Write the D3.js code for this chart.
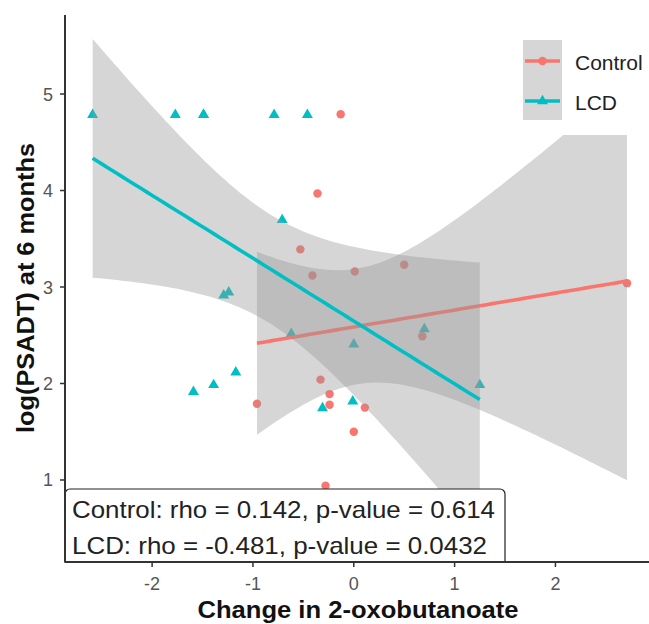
<!DOCTYPE html>
<html>
<head>
<meta charset="utf-8">
<script src="https://cdn.jsdelivr.net/npm/d3@7"></script>
<style>
  html, body { margin: 0; padding: 0; background: #fff; }
  text { font-family: "Liberation Sans", Arial, sans-serif; }
</style>
</head>
<body>
<svg id="chart" width="649" height="624"></svg>
<script>
// ---- data ----
const xTicks = [-2, -1, 0, 1, 2];
const yTicks = [1, 2, 3, 4, 5];
const groups = ["Control", "LCD"];
const controlX = [-0.13, -0.36, -0.53, -0.41, 0.01, 0.50, 0.68, -0.33, -0.24, -0.24, -0.96, 0.11, 0.00, -0.28, 2.71];
const controlY = [4.79, 3.97, 3.39, 3.12, 3.16, 3.23, 2.49, 2.04, 1.89, 1.78, 1.79, 1.75, 1.50, 0.94, 3.04];
const lcdX = [-2.59, -1.77, -1.49, -1.49, -0.79, -0.46, -0.71, -1.29, -1.24, -1.59, -1.39, -1.17, -0.31, -0.01, 0.00, 0.70, 1.25, -0.62];
const lcdY = [4.79, 4.79, 4.79, 4.79, 4.79, 4.79, 3.70, 2.92, 2.95, 1.92, 1.99, 2.12, 1.75, 1.82, 2.41, 2.57, 1.99, 2.52];
const annotationLines = ["Control: rho = 0.142, p-value = 0.614", "LCD: rho = -0.481, p-value = 0.0432"];
const xTitle = "Change in 2-oxobutanoate";
const yTitle = "log(PSADT) at 6 months";

// ---- layout ----
const W = 649, H = 624;
const plot = { left: 65, right: 649, top: 15, bottom: 562 };
const colors = { Control: "#F8766D", LCD: "#00BFC4" };

const svg = d3.select("#chart");
const x = d3.scaleLinear().domain([-2.864, 2.928]).range([plot.left, plot.right]);
const y = d3.scaleLinear().domain([0.15, 5.819]).range([plot.bottom, plot.top]);

// ---- stats: linear fit + 95% CI like geom_smooth(method = "lm") ----
function tPdfU(t, nu) { return Math.pow(1 + t * t / nu, -(nu + 1) / 2); }
function integ(f, a, b, n) {
  const h = (b - a) / n; let s = f(a) + f(b);
  for (let i = 1; i < n; i++) s += f(a + i * h) * (i % 2 ? 4 : 2);
  return s * h / 3;
}
function tQuantile(p, nu) {
  const total = integ(t => tPdfU(t, nu), 0, 80, 8000);
  let lo = 0, hi = 10;
  for (let k = 0; k < 60; k++) {
    const mid = (lo + hi) / 2;
    const v = integ(t => tPdfU(t, nu), 0, mid, 2000) / total;
    if (0.5 + v / 2 < p) lo = mid; else hi = mid;
  }
  return (lo + hi) / 2;
}
function lmFit(xs, ys) {
  const n = xs.length, mx = d3.mean(xs), my = d3.mean(ys);
  let sxx = 0, sxy = 0;
  xs.forEach((xi, i) => { sxx += (xi - mx) ** 2; sxy += (xi - mx) * (ys[i] - my); });
  const b = sxy / sxx, a = my - b * mx;
  let sse = 0; xs.forEach((xi, i) => { sse += (ys[i] - a - b * xi) ** 2; });
  const s = Math.sqrt(sse / (n - 2));
  const tq = tQuantile(0.975, n - 2);
  const [x0, x1] = d3.extent(xs);
  return d3.range(80).map(i => {
    const xv = x0 + (x1 - x0) * i / 79;
    const fit = a + b * xv;
    const se = s * Math.sqrt(1 / n + (xv - mx) ** 2 / sxx);
    return { x: xv, fit, lo: fit - tq * se, hi: fit + tq * se };
  });
}

const data = {
  Control: controlX.map((v, i) => ({ x: v, y: controlY[i] })),
  LCD: lcdX.map((v, i) => ({ x: v, y: lcdY[i] }))
};
const fits = {
  Control: lmFit(controlX, controlY),
  LCD: lmFit(lcdX, lcdY)
};

svg.append("clipPath").attr("id", "clip").append("rect")
  .attr("x", plot.left).attr("y", plot.top)
  .attr("width", plot.right - plot.left).attr("height", plot.bottom - plot.top);
const gPlot = svg.append("g").attr("clip-path", "url(#clip)");

// points (drawn beneath the smooths)
const circleSym = d3.symbol().type(d3.symbolCircle).size(56);
const triSym = d3.symbol().type(d3.symbolTriangle).size(52);
groups.forEach(g => {
  gPlot.append("g").selectAll("path").data(data[g]).join("path")
    .attr("d", g === "Control" ? circleSym : triSym)
    .attr("transform", d => `translate(${x(d.x)},${y(d.y) + (g === "LCD" ? 0.5 : 0)})`)
    .attr("fill", colors[g]);
});

// smooth ribbons + lines
const area = d3.area().x(d => x(d.x)).y0(d => y(d.lo)).y1(d => y(d.hi));
const line = d3.line().x(d => x(d.x)).y(d => y(d.fit));
groups.forEach(g => {
  gPlot.append("path").datum(fits[g]).attr("d", area)
    .attr("fill", "#999999").attr("fill-opacity", 0.4);
  gPlot.append("path").datum(fits[g]).attr("d", line)
    .attr("fill", "none").attr("stroke", colors[g]).attr("stroke-width", 3.6);
});

// legend (inside panel, white background)
const leg = svg.append("g");
leg.append("rect").attr("x", 508).attr("y", 25).attr("width", 141).attr("height", 110).attr("fill", "#fff");
groups.forEach((g, i) => {
  const ky = 40 + i * 40;
  leg.append("rect").attr("x", 523).attr("y", ky).attr("width", 39).attr("height", 40).attr("fill", "#d6d6d6");
  leg.append("line").attr("x1", 525).attr("x2", 560).attr("y1", ky + 21).attr("y2", ky + 21)
    .attr("stroke", colors[g]).attr("stroke-width", 3.6);
  leg.append("path").attr("d", g === "Control" ? circleSym : triSym)
    .attr("transform", `translate(542.5,${ky + 21})`).attr("fill", colors[g]);
  leg.append("text").attr("x", 575).attr("y", ky + 30).attr("font-size", 21).attr("fill", "#222").text(g);
});

// annotation label box
const ann = svg.append("g");
ann.append("rect").attr("x", 65).attr("y", 489).attr("width", 440).attr("height", 80)
  .attr("rx", 5).attr("fill", "#fff").attr("stroke", "#222").attr("stroke-width", 1.2);
const annLens = [423, 415];
annotationLines.forEach((t, i) => {
  ann.append("text").attr("x", 72).attr("y", 518 + i * 36).attr("font-size", 24)
    .attr("textLength", annLens[i]).attr("lengthAdjust", "spacingAndGlyphs")
    .attr("fill", "#222").text(t);
});
svg.append("rect").attr("x", 60).attr("y", 563).attr("width", 460).attr("height", 10).attr("fill", "#fff");

// axes
const axisColor = "#333";
svg.append("line").attr("x1", plot.left).attr("x2", plot.left).attr("y1", plot.top).attr("y2", plot.bottom)
  .attr("stroke", axisColor).attr("stroke-width", 2);
svg.append("line").attr("x1", plot.left).attr("x2", plot.right).attr("y1", plot.bottom).attr("y2", plot.bottom)
  .attr("stroke", axisColor).attr("stroke-width", 2);

const gx = svg.append("g");
gx.selectAll("line").data(xTicks).join("line")
  .attr("x1", d => x(d)).attr("x2", d => x(d)).attr("y1", plot.bottom).attr("y2", plot.bottom + 5)
  .attr("stroke", axisColor).attr("stroke-width", 1.5);
gx.selectAll("text").data(xTicks).join("text")
  .attr("x", d => x(d)).attr("y", 590).attr("text-anchor", "middle")
  .attr("font-size", 18).attr("fill", "#555").text(d => d);

const gy = svg.append("g");
gy.selectAll("line").data(yTicks).join("line")
  .attr("x1", plot.left - 5).attr("x2", plot.left).attr("y1", d => y(d)).attr("y2", d => y(d))
  .attr("stroke", axisColor).attr("stroke-width", 1.5);
gy.selectAll("text").data(yTicks).join("text")
  .attr("x", 53).attr("y", d => y(d) + 6.5).attr("text-anchor", "end")
  .attr("font-size", 18).attr("fill", "#555").text(d => d);

svg.append("text").attr("x", 358).attr("y", 618).attr("text-anchor", "middle")
  .attr("font-size", 24).attr("font-weight", "bold").attr("fill", "#111")
  .attr("textLength", 321).attr("lengthAdjust", "spacingAndGlyphs").text(xTitle);
svg.append("text").attr("transform", `translate(34,288) rotate(-90)`).attr("text-anchor", "middle")
  .attr("font-size", 24).attr("font-weight", "bold").attr("fill", "#111")
  .attr("textLength", 290).attr("lengthAdjust", "spacingAndGlyphs").text(yTitle);
</script>
</body>
</html>
